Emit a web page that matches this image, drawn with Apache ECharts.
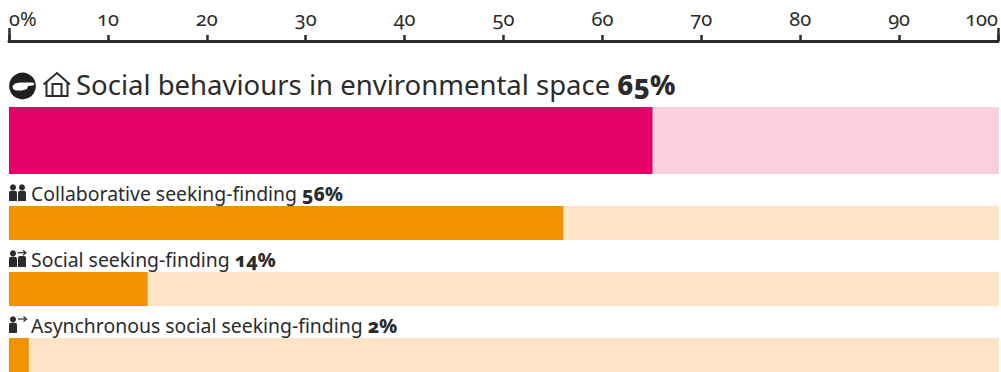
<!DOCTYPE html>
<html>
<head>
<meta charset="utf-8">
<style>
  html, body { margin: 0; padding: 0; background: #fff; }
  #chart { width: 1001px; height: 372px; }
  /* Old-style figures on every label */
  svg text { font-feature-settings: "onum" 1 !important; font-variant-numeric: oldstyle-nums !important; }
</style>
<script src="https://cdn.jsdelivr.net/npm/echarts@6/dist/echarts.min.js"></script>
</head>
<body>
<div id="chart"></div>
<script>
const categories = [
  'Social behaviours in environmental space',
  'Collaborative seeking-finding',
  'Social seeking-finding',
  'Asynchronous social seeking-finding'
];
const values = [65, 56, 14, 2];
const fillColors = ['#e6006a', '#f39200', '#f39200', '#f39200'];
const trackColors = ['#f9d0dc', '#fde4c6', '#fde4c6', '#fde4c6'];
const barTops = [107, 206, 272, 338];
const barHeights = [67, 34, 34, 34];
const labelLefts = [76, 31, 31, 31];
const labelTops = [70.5, 184, 250, 316];
const labelSizes = [27.5, 19.4, 19.4, 19.4];

const FONT = '"Noto Sans", sans-serif';
const INK = '#2b2b2b';

const grids = [{ left: 9, width: 990, top: 1, height: 40 }];
const xAxes = [
  {
    gridIndex: 0, type: 'value', position: 'bottom', min: 0, max: 100, interval: 10,
    axisLine: { show: true, lineStyle: { color: INK, width: 3 } },
    axisTick: { show: true, inside: true, length: 6, lineStyle: { color: INK, width: 2.5 } },
    splitLine: { show: false },
    axisLabel: {
      inside: true, margin: 13, color: INK, fontFamily: FONT, fontSize: 20,
      alignMinLabel: 'left', alignMaxLabel: 'right',
      formatter: v => (v === 0 ? '0%' : String(v))
    }
  },
  {
    gridIndex: 0, type: 'value', position: 'bottom', min: 0, max: 100, interval: 100,
    axisLine: { show: false },
    axisTick: { show: true, inside: true, length: 13, lineStyle: { color: INK, width: 2.5 } },
    splitLine: { show: false },
    axisLabel: { show: false }
  }
];
const yAxes = [{ gridIndex: 0, type: 'value', show: false }];
const series = [];
const titles = [];

categories.forEach((name, i) => {
  const g = i + 1;
  grids.push({ left: 9, width: 990, top: barTops[i], height: barHeights[i] });
  xAxes.push({ gridIndex: g, type: 'value', min: 0, max: 100, show: false });
  yAxes.push({ gridIndex: g, type: 'category', data: [name], show: false });
  series.push({
    type: 'bar', xAxisIndex: g + 1, yAxisIndex: g, data: [values[i]],
    barWidth: '100%', silent: true, animation: false,
    itemStyle: { color: fillColors[i] },
    showBackground: true,
    backgroundStyle: { color: trackColors[i] }
  });
  titles.push({
    left: labelLefts[i], top: labelTops[i], padding: 0,
    text: `{t|${name} }{b|${values[i]}%}`,
    textStyle: {
      rich: {
        t: { fontFamily: FONT, fontSize: labelSizes[i], color: INK, fontWeight: 400 },
        b: { fontFamily: FONT, fontSize: labelSizes[i], color: INK, fontWeight: 800 }
      }
    }
  });
});

// Pictograms beside the labels
const person = (x, y) => [
  { type: 'circle', shape: { cx: x + 4, cy: y + 3, r: 3 }, style: { fill: INK } },
  { type: 'rect', shape: { x: x, y: y + 6.4, width: 8, height: 10.2, r: [2, 2, 0, 0] }, style: { fill: INK } }
];
const arrow = (x, y) => [
  { type: 'line', shape: { x1: x, y1: y, x2: x + 8, y2: y }, style: { stroke: INK, lineWidth: 1.2 } },
  { type: 'polyline', shape: { points: [[x + 5.5, y - 2.5], [x + 8.5, y], [x + 5.5, y + 2.5]] }, style: { fill: null, stroke: INK, lineWidth: 1.2 } }
];
const icons = [
  { type: 'circle', shape: { cx: 22.5, cy: 86, r: 13.4 }, style: { fill: '#1f1f1f' } },
  { type: 'polygon', shape: { points: [[12.5, 86], [15, 83.5], [20, 82.5], [33, 82.5], [34.5, 84], [33, 85.5], [28, 86], [27, 89], [22, 90.5], [16, 90.5], [13, 89]] }, style: { fill: '#fff' } },
  { type: 'polyline', shape: { points: [[43.5, 84.5], [57, 73], [70, 84.5]] }, style: { fill: null, stroke: INK, lineWidth: 2 } },
  { type: 'polyline', shape: { points: [[46.5, 82], [46.5, 96], [67.5, 96], [67.5, 82]] }, style: { fill: null, stroke: INK, lineWidth: 2 } },
  { type: 'polyline', shape: { points: [[52.5, 96], [52.5, 84], [61.5, 84], [61.5, 96]] }, style: { fill: null, stroke: INK, lineWidth: 2 } },
  ...person(9, 184.4), ...person(18, 184.4),
  ...person(9, 250.4),
  { type: 'rect', shape: { x: 18, y: 256, width: 8, height: 11, r: [2, 2, 0, 0] }, style: { fill: INK } },
  ...arrow(17.5, 252.7),
  ...person(9, 316.4),
  ...arrow(18, 319)
];

const chart = echarts.init(document.getElementById('chart'), null, { renderer: 'svg' });
chart.setOption({
  animation: false,
  backgroundColor: '#fff',
  title: titles,
  grid: grids,
  xAxis: xAxes,
  yAxis: yAxes,
  series: series,
  graphic: icons.map(el => Object.assign({ silent: true }, el))
});
</script>
</body>
</html>
